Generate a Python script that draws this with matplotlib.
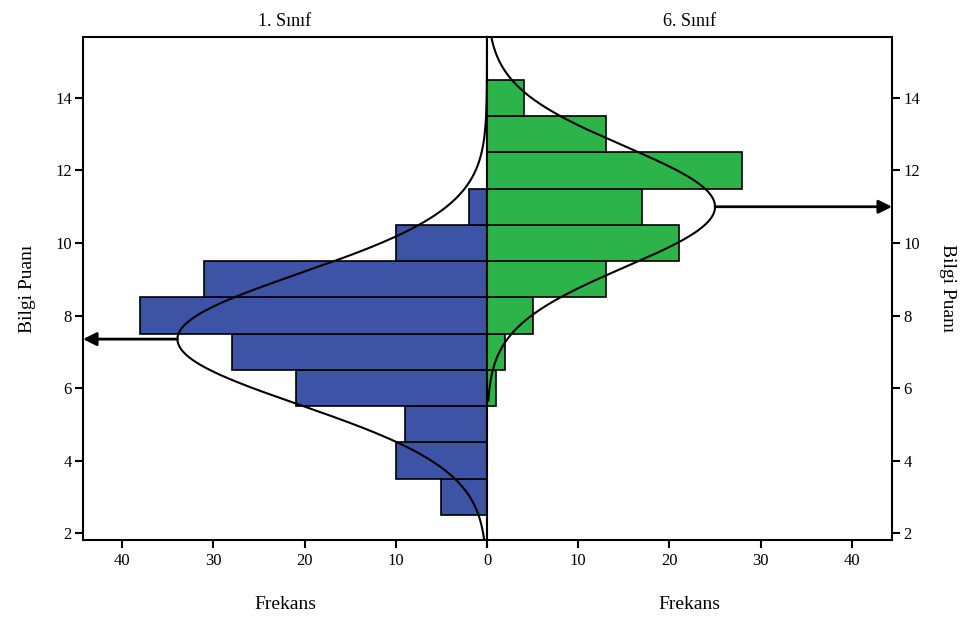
import numpy as np
import matplotlib
matplotlib.use("Agg")
import matplotlib.pyplot as plt

plt.rcParams['font.family'] = ['Liberation Serif', 'DejaVu Serif']

# score bins (bar centres) and frequencies per grade
scores = [3, 4, 5, 6, 7, 8, 9, 10, 11, 12, 13, 14]
freq_grade1 = [5, 10, 9, 21, 28, 38, 31, 10, 2, 0, 0, 0]
freq_grade6 = [0, 0, 0, 1, 2, 5, 13, 21, 17, 28, 13, 4]

# fitted normal curves: mean, sd, n
curve_grade1 = (7.35, 1.81, 154)
curve_grade6 = (11.0, 1.66, 104)

y_ticks = [2, 4, 6, 8, 10, 12, 14]
x_ticks = [0, 10, 20, 30, 40]

blue = '#3d54a6'
green = '#2cb34a'

fig = plt.figure(figsize=(9.65, 6.19), dpi=100)
ax_l = fig.add_axes([0.086, 0.1276, 0.4187, 0.8126])
ax_r = fig.add_axes([0.5047, 0.1276, 0.4197, 0.8126], sharey=ax_l)

ylim = (1.81, 15.68)
xmax = 44.3


def normal_curve(mean, sd, n, y):
    return n / (sd * np.sqrt(2 * np.pi)) * np.exp(-0.5 * ((y - mean) / sd) ** 2)


ax_l.barh(scores, freq_grade1, height=1.0, color=blue, edgecolor='black', linewidth=1.2)
ax_r.barh(scores, freq_grade6, height=1.0, color=green, edgecolor='black', linewidth=1.2)

y1 = np.linspace(ylim[0], ylim[1], 400)
ax_l.plot(normal_curve(*curve_grade1, y1), y1, color='black', lw=1.5)
y6 = np.linspace(5.65, ylim[1], 400)
ax_r.plot(normal_curve(*curve_grade6, y6), y6, color='black', lw=1.5)

ax_l.set_xlim(xmax, 0)
ax_r.set_xlim(0, xmax + 0.1)
ax_l.set_ylim(*ylim)

# arrows from curve peaks to the side axes
peak1 = normal_curve(*curve_grade1, curve_grade1[0])
ax_l.annotate('', xy=(xmax, curve_grade1[0]), xytext=(peak1, curve_grade1[0]),
              arrowprops=dict(arrowstyle='-|>', color='black', lw=2,
                              mutation_scale=20, shrinkA=0, shrinkB=0),
              annotation_clip=False)
peak6 = normal_curve(*curve_grade6, curve_grade6[0])
ax_r.annotate('', xy=(xmax + 0.1, curve_grade6[0]), xytext=(peak6, curve_grade6[0]),
              arrowprops=dict(arrowstyle='-|>', color='black', lw=2,
                              mutation_scale=20, shrinkA=0, shrinkB=0),
              annotation_clip=False)

for ax in (ax_l, ax_r):
    ax.set_xticks(x_ticks)
    ax.tick_params(axis='both', direction='out', length=6, width=1.5, labelsize=12)
    for s in ax.spines.values():
        s.set_linewidth(1.5)

ax_r.set_xticklabels([''] + [str(t) for t in x_ticks[1:]])

ax_l.set_yticks(y_ticks)
ax_l.tick_params(axis='y', pad=2)
ax_r.yaxis.tick_right()
ax_r.tick_params(axis='y', pad=2)
ax_r.yaxis.set_label_position('right')

ax_l.set_title('1. Sınıf', fontsize=13, pad=8)
ax_r.set_title('6. Sınıf', fontsize=13, pad=8)
ax_l.set_xlabel('Frekans', fontsize=14, labelpad=19)
ax_r.set_xlabel('Frekans', fontsize=14, labelpad=19)
ax_l.set_ylabel('Bilgi Puanı', fontsize=14, labelpad=14)
ax_r.set_ylabel('Bilgi Puanı', fontsize=14, rotation=-90, labelpad=26)

fig.savefig('out.png', dpi=100)
